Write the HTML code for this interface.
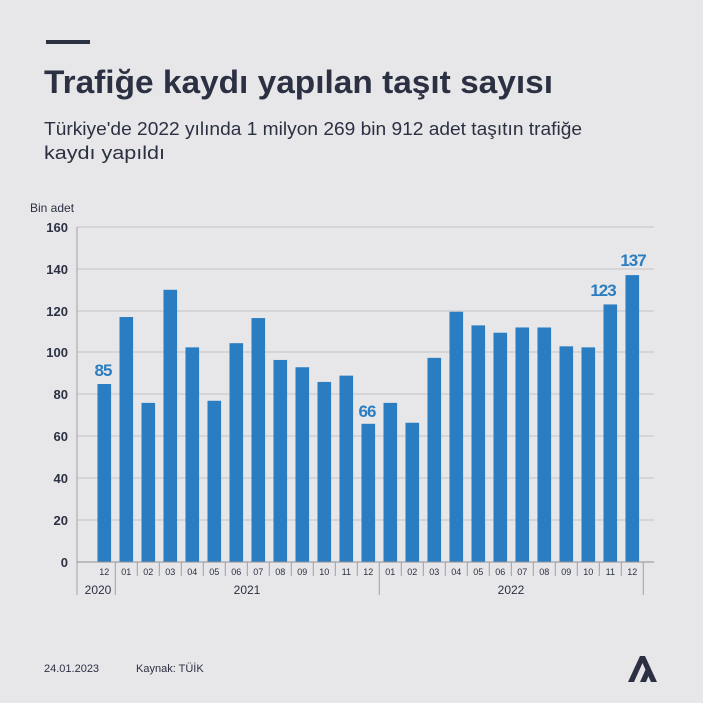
<!DOCTYPE html>
<html><head><meta charset="utf-8"><style>
html,body{margin:0;padding:0;background:#e7e7e9;}
svg{display:block;font-family:"Liberation Sans",sans-serif;}
</style></head><body>
<svg width="703" height="703" viewBox="0 0 703 703" xmlns="http://www.w3.org/2000/svg">
<rect width="703" height="703" fill="#e7e7e9"/>
<rect x="46" y="40" width="44" height="4" fill="#2b3042"/>
<text x="44" y="93" font-size="32" font-weight="bold" fill="#2b3042" textLength="509" lengthAdjust="spacingAndGlyphs">Trafiğe kaydı yapılan taşıt sayısı</text>
<text x="44" y="135" font-size="18" fill="#2b3042" textLength="538" lengthAdjust="spacingAndGlyphs">Türkiye'de 2022 yılında 1 milyon 269 bin 912 adet taşıtın trafiğe</text>
<text x="44" y="159" font-size="18" fill="#2b3042" textLength="121" lengthAdjust="spacingAndGlyphs">kaydı yapıldı</text>
<text x="30" y="212" font-size="12" fill="#2b3042">Bin adet</text>
<g stroke="#c3c3c7" stroke-width="1">
<line x1="77" y1="227" x2="654" y2="227"/>
<line x1="77" y1="269" x2="654" y2="269"/>
<line x1="77" y1="311" x2="654" y2="311"/>
<line x1="77" y1="352" x2="654" y2="352"/>
<line x1="77" y1="394" x2="654" y2="394"/>
<line x1="77" y1="436" x2="654" y2="436"/>
<line x1="77" y1="478" x2="654" y2="478"/>
<line x1="77" y1="520" x2="654" y2="520"/>
</g>
<g font-size="13" font-weight="bold" fill="#2b3042" text-anchor="end">
<text x="68" y="232">160</text><text x="68" y="274">140</text><text x="68" y="316">120</text>
<text x="68" y="357">100</text><text x="68" y="399">80</text><text x="68" y="441">60</text>
<text x="68" y="483">40</text><text x="68" y="525">20</text><text x="68" y="567">0</text>
</g>
<g id="bars" fill="#2a7dc1"></g>
<line x1="77" y1="227" x2="77" y2="595" stroke="#a0a0a5"/>
<line x1="77" y1="562" x2="654" y2="562" stroke="#8f8f95"/>
<g id="ticks" stroke="#a0a0a5"></g>
<g id="labs" font-size="9" fill="#2b3042" text-anchor="middle"></g>
<g font-size="12" fill="#2b3042" text-anchor="middle">
<text x="98" y="594">2020</text><text x="247" y="594">2021</text><text x="511" y="594">2022</text>
</g>
<g font-size="17" font-weight="bold" fill="#2a7dc1" text-anchor="middle" letter-spacing="-1">
<text x="103" y="376">85</text><text x="367" y="417">66</text>
<text x="603" y="296">123</text><text x="633" y="266">137</text>
</g>
<text x="44" y="672" font-size="11" fill="#2b3042">24.01.2023</text>
<text x="136" y="672" font-size="11" fill="#2b3042">Kaynak: TÜİK</text>
<g fill="#2b3042">
<path d="M628 682 L640 656 L645 656 L657 682 L651 682 L642.5 663 L634 682 Z"/>
<path d="M640 682 L648 664 L651 670 L646 682 Z"/>
</g>
</svg>
<script>
var v=[85,117,76,130,102.5,77,104.5,116.5,96.5,93,86,89,66,76,66.5,97.5,119.5,113,109.5,112,112,103,102.5,123,137];
var m=["12","01","02","03","04","05","06","07","08","09","10","11","12","01","02","03","04","05","06","07","08","09","10","11","12"];
var ns="http://www.w3.org/2000/svg",b=document.getElementById("bars"),t=document.getElementById("ticks"),l=document.getElementById("labs");
function el(p,n,a){var e=document.createElementNS(ns,n);for(var k in a)e.setAttribute(k,a[k]);p.appendChild(e);return e;}
for(var i=0;i<25;i++){var cx=104.3+i*22,h=v[i]*2.094;
el(b,"rect",{x:cx-6.8,y:562-h,width:13.6,height:h});
var tx=el(l,"text",{x:cx,y:575});tx.textContent=m[i];
var sx=cx+11,yr=(i==0||i==12||i==24);
el(t,"line",{x1:sx,y1:562,x2:sx,y2:yr?595:576});}
</script>
</body></html>
